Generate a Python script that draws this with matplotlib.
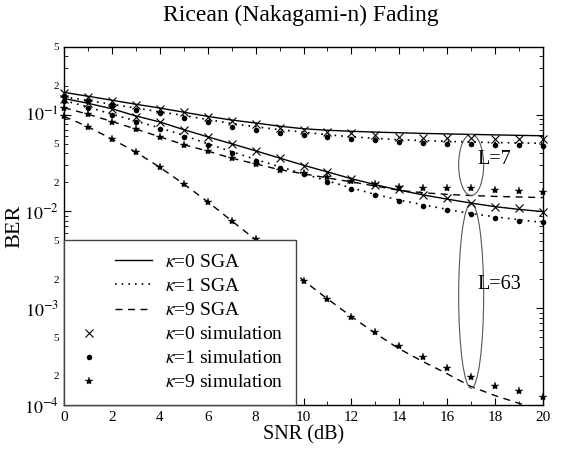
import numpy as np
import matplotlib
matplotlib.use("Agg")
import matplotlib.pyplot as plt
from matplotlib.legend_handler import HandlerLine2D
from matplotlib.patches import Ellipse
from matplotlib.ticker import LogLocator, FuncFormatter, MultipleLocator

plt.rcParams['font.family'] = ['Liberation Serif', 'DejaVu Serif']
plt.rcParams['mathtext.fontset'] = 'stix'

snr = np.arange(0, 21)

# L = 7
sga_k0_L7 = [0.170, 0.155, 0.141, 0.128, 0.117, 0.106, 0.096, 0.088, 0.082, 0.076, 0.0715,
             0.069, 0.0673, 0.066, 0.065, 0.064, 0.0632, 0.0625, 0.0618, 0.0611, 0.0605]
sim_k0_L7 = [0.166, 0.151, 0.139, 0.127, 0.1145, 0.1057, 0.094, 0.0861, 0.080, 0.0733, 0.0695,
             0.0668, 0.064, 0.061, 0.059, 0.0575, 0.057, 0.058, 0.0561, 0.0561, 0.0561]
sga_k1_L7 = [0.153, 0.140, 0.128, 0.117, 0.107, 0.098, 0.089, 0.081, 0.075, 0.070, 0.066,
             0.062, 0.059, 0.057, 0.055, 0.054, 0.053, 0.052, 0.0515, 0.051, 0.0506]
sim_k1_L7 = [0.157, 0.138, 0.126, 0.112, 0.103, 0.0916, 0.0834, 0.0751, 0.0695, 0.0652, 0.0621,
             0.0592, 0.0561, 0.0548, 0.0526, 0.0513, 0.0500, 0.0500, 0.0486, 0.0486, 0.0474]
sga_k9_L7 = [0.118, 0.101, 0.085, 0.071, 0.059, 0.049, 0.042, 0.0355, 0.031, 0.027, 0.0245,
             0.0222, 0.0202, 0.0183, 0.0165, 0.0156, 0.0150, 0.0146, 0.0143, 0.0141, 0.0139]
sim_k9_L7 = [0.118, 0.1016, 0.0846, 0.0706, 0.0584, 0.0486, 0.0421, 0.0354, 0.0309, 0.027, 0.0248,
             0.0225, 0.0208, 0.0192, 0.018, 0.0176, 0.0173, 0.0173, 0.0167, 0.0163, 0.0158]

# L = 63
sga_k0_L63 = [0.147, 0.131, 0.115, 0.097, 0.084, 0.070, 0.0590, 0.0500, 0.0423, 0.0356, 0.0300,
              0.0256, 0.0218, 0.0189, 0.0166, 0.0148, 0.0134, 0.0122, 0.0112, 0.0105, 0.00995]
sim_k0_L63 = [0.144, 0.131, 0.1145, 0.0953, 0.0834, 0.0695, 0.0584, 0.0498, 0.0421, 0.0354, 0.0297,
              0.0254, 0.0216, 0.0187, 0.0170, 0.0148, 0.0137, 0.0123, 0.0112, 0.0108, 0.00995]
sga_k1_L63 = [0.140, 0.120, 0.101, 0.086, 0.073, 0.061, 0.050, 0.0415, 0.0345, 0.0290, 0.0245,
              0.0207, 0.0175, 0.0150, 0.0131, 0.0117, 0.0105, 0.0095, 0.0088, 0.0082, 0.0077]
sim_k1_L63 = [0.138, 0.118, 0.0993, 0.0840, 0.0711, 0.0592, 0.0486, 0.0405, 0.0334, 0.0283, 0.0242,
              0.0203, 0.0171, 0.0148, 0.0129, 0.0115, 0.0104, 0.0094, 0.00863, 0.00798, 0.00773]
sga_k9_L63 = [0.096, 0.075, 0.056, 0.041, 0.0286, 0.0192, 0.0126, 0.0080, 0.0051, 0.0032, 0.00193,
              0.00125, 0.00082, 0.00055, 0.00038, 0.00028, 0.00021, 0.000155, 0.000125, 0.000104, 0.000088]
sim_k9_L63 = [0.096, 0.0751, 0.0561, 0.0409, 0.0286, 0.0192, 0.0126, 0.00798, 0.00515, 0.0032, 0.00193,
              0.00125, 0.00082, 0.00057, 0.00041, 0.000314, 0.00024, 0.000196, 0.000156, 0.00014, 0.000122]

legend_labels = [r'$\kappa$=0 SGA', r'$\kappa$=1 SGA', r'$\kappa$=9 SGA',
                 r'$\kappa$=0 simulation', r'$\kappa$=1 simulation', r'$\kappa$=9 simulation']
group_labels = ['L=7', 'L=63']
group_label_y = [0.034, 0.00174]
ellipse_snr = 17

fig = plt.figure(figsize=(5.62, 4.5), dpi=100)
ax = fig.add_axes([64 / 562, 1 - 405 / 450, (543 - 64) / 562, (405 - 47) / 450])

lw = 1.0
dot_ls = (0, (1, 3))
dash_ls = (0, (5, 4))
mk = dict(color='black', linestyle='none', clip_on=False, zorder=3)

line_handles = []
marker_handles = []
h, = ax.plot(snr, sga_k0_L7, color='black', lw=lw, linestyle='-')
ax.plot(snr, sga_k0_L63, color='black', lw=lw, linestyle='-')
line_handles.append(h)
h, = ax.plot(snr, sga_k1_L7, color='black', lw=1.2, linestyle=dot_ls)
ax.plot(snr, sga_k1_L63, color='black', lw=1.2, linestyle=dot_ls)
line_handles.append(h)
h, = ax.plot(snr, sga_k9_L7, color='black', lw=lw, linestyle=dash_ls)
ax.plot(snr, sga_k9_L63, color='black', lw=lw, linestyle=dash_ls)
line_handles.append(h)

h, = ax.plot(snr, sim_k0_L7, marker='x', markersize=6, mew=0.8, **mk)
ax.plot(snr, sim_k0_L63, marker='x', markersize=6, mew=0.8, **mk)
marker_handles.append(h)
h, = ax.plot(snr, sim_k1_L7, marker='o', markersize=4, mew=0, **mk)
ax.plot(snr, sim_k1_L63, marker='o', markersize=4, mew=0, **mk)
marker_handles.append(h)
h, = ax.plot(snr, sim_k9_L7, marker='*', markersize=6, mew=0.3, **mk)
ax.plot(snr, sim_k9_L63, marker='*', markersize=6, mew=0.3, **mk)
marker_handles.append(h)

ax.set_yscale('log')
ax.set_xlim(0, 20)
ax.set_ylim(1e-4, 0.5)

# ticks
ax.xaxis.set_major_locator(MultipleLocator(2))
ax.xaxis.set_minor_locator(MultipleLocator(1))
ax.yaxis.set_major_locator(LogLocator(base=10, numticks=10))
ax.yaxis.set_major_formatter(FuncFormatter(lambda v, p: r'$10^{%d}$' % int(round(np.log10(v)))))
ax.yaxis.set_minor_locator(LogLocator(base=10, subs=np.arange(2, 10), numticks=20))


def minor_fmt(v, p):
    m = v / 10 ** np.floor(np.log10(v) + 1e-9)
    r = int(round(m))
    return str(r) if r in (2, 5) else ''


ax.yaxis.set_minor_formatter(FuncFormatter(minor_fmt))
ax.tick_params(which='both', direction='in', top=True, right=True)
ax.tick_params(which='major', length=5, width=0.8)
ax.tick_params(which='minor', length=3, width=0.6)
ax.tick_params(axis='x', which='major', labelsize=11, pad=4)
ax.tick_params(axis='y', which='major', labelsize=13)
ax.tick_params(axis='y', which='minor', labelsize=8)
for s in ax.spines.values():
    s.set_linewidth(1.0)

ax.set_xlabel('SNR (dB)', fontsize=14.5, labelpad=1)
ax.set_ylabel('BER', fontsize=16, labelpad=0)
fig.suptitle('Ricean (Nakagami-n) Fading', fontsize=17, x=0.535, y=0.99)

# ellipses around the L groups
fig.canvas.draw()
to_ax = ax.transData + ax.transAxes.inverted()
ell_groups = [(sga_k0_L7[ellipse_snr], sga_k9_L7[ellipse_snr]),
              (sga_k0_L63[ellipse_snr], sim_k9_L63[ellipse_snr] * 0.76)]
for (top, bot), lab, ly in zip(ell_groups, group_labels, group_label_y):
    x0, yt = to_ax.transform((ellipse_snr, top))
    _, yb = to_ax.transform((ellipse_snr, bot))
    e = Ellipse((x0, (yt + yb) / 2), width=25 / 479, height=(yt - yb), transform=ax.transAxes,
                fill=False, edgecolor='#555555', lw=0.8, zorder=2)
    ax.add_patch(e)
    ax.text(ellipse_snr + 0.25, ly, lab, fontsize=14.5, va='center', ha='left')


class LineRightHandler(HandlerLine2D):
    def get_xdata(self, legend, xdescent, ydescent, width, height, fontsize):
        xdata = np.array([-xdescent + 0.5 * width, width - xdescent])
        return xdata, xdata


class MarkerLeftHandler(HandlerLine2D):
    def get_xdata(self, legend, xdescent, ydescent, width, height, fontsize):
        c = -xdescent + 0.15 * width
        xdata = np.array([c - 1, c + 1])
        return xdata, xdata


hmap = {h: LineRightHandler() for h in line_handles}
hmap.update({h: MarkerLeftHandler() for h in marker_handles})
leg = ax.legend(line_handles + marker_handles, legend_labels, loc='lower left',
                bbox_to_anchor=(0, 0), borderaxespad=0, numpoints=1,
                fontsize=14, handlelength=3.8, handletextpad=0.67, borderpad=0.7,
                labelspacing=0.33, fancybox=False, framealpha=1, edgecolor='#444444',
                handler_map=hmap)
leg.get_frame().set_linewidth(1.0)
leg.set_zorder(5)

fig.savefig('out.png', dpi=100)
